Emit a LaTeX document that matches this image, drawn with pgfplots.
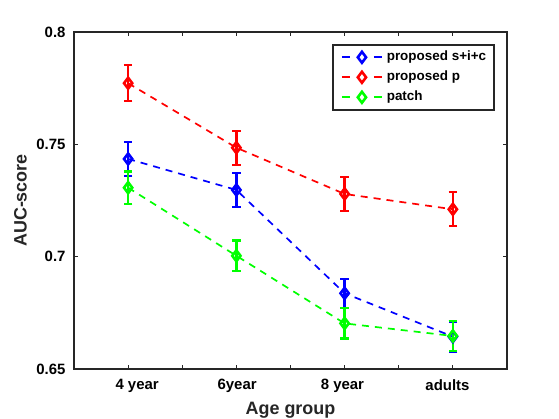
\documentclass[border=0pt]{standalone}
\usepackage{fontspec}
\setmainfont{Liberation Sans}
\usepackage{pgfplots}
\pgfplotsset{compat=1.18}
\definecolor{axgray}{RGB}{38,38,38}
\pgfplotstableread{
x y e
1 0.7435 0.0076
2 0.7297 0.0077
3 0.6837 0.0064
4 0.6644 0.0067
}\blueT
\pgfplotstableread{
x y e
1 0.7772 0.0080
2 0.7485 0.0076
3 0.7279 0.0076
4 0.7211 0.0076
}\redT
\pgfplotstableread{
x y e
1 0.7307 0.0072
2 0.7004 0.0068
3 0.6703 0.0067
4 0.6647 0.0068
}\greenT
\pgfplotsset{
  mystyle/.style={
    line width=1.7bp, dash pattern=on 7bp off 6bp,
    mark=diamond, mark size=5.5bp, mark options={solid, line width=2.6bp, fill=none},
    error bars/.cd, y dir=both, y explicit,
    error bar style={solid, line width=2.4bp},
    error mark options={solid, rotate=90, mark size=4.2bp, line width=2.2bp}
  }
}
\begin{document}
\begin{tikzpicture}
\begin{axis}[
  at={(0,0)}, anchor=south west,
  scale only axis, width=433bp, height=337bp,
  xmin=0.5, xmax=4.5, ymin=0.65, ymax=0.8,
  xtick={1,1.5,...,4}, xticklabels={},
  extra x ticks={1.083,2.007,2.98,3.95},
  extra x tick labels={4 year,6year,8 year,adults},
  extra x tick style={major tick length=0pt},
  ytick={0.65,0.7,0.75,0.8}, yticklabels={0.65,0.7,0.75,0.8},
  tick align=inside, major tick length=4bp,
  every tick/.style={axgray, line width=1.2bp},
  axis line style={axgray, line width=1.7bp},
  tick label style={font=\bfseries\fontsize{15}{17}\selectfont, text=black},
  xticklabel style={yshift=-7bp},
  yticklabel style={xshift=-5bp},
  xlabel={Age group}, ylabel={AUC-score},
  label style={font=\bfseries\fontsize{18}{20}\selectfont, text=axgray},
  xlabel style={at={(axis description cs:0.5,0)}, anchor=north, yshift=-33bp, inner sep=0pt},
  ylabel style={at={(axis description cs:-0.1085,0.5)}, anchor=south, inner sep=0pt},
  legend style={at={(1,1)}, anchor=north east, xshift=-12bp, yshift=-12bp,
    draw=axgray, line width=1.6bp, inner xsep=8bp, inner ysep=6bp,
    font=\bfseries\fontsize{13.5}{15}\selectfont, row sep=7bp,
    nodes={inner sep=0pt, text height=10bp, text depth=3bp}},
  legend cell align=left,
  legend image code/.code={
    \draw[#1, dash pattern=on 8bp off 24bp, mark repeat=2, mark phase=2]
      plot coordinates {(0bp,0bp) (20bp,0bp) (40bp,0bp)};
    \path (44bp,0bp);
  },
]
\addplot[blue, mystyle] table[x=x, y=y, y error=e] {\blueT};
\addlegendentry{proposed s+i+c}
\addplot[red, mystyle] table[x=x, y=y, y error=e] {\redT};
\addlegendentry{proposed p}
\addplot[green, mystyle] table[x=x, y=y, y error=e] {\greenT};
\addlegendentry{patch}
\end{axis}
\pgfresetboundingbox
\path[use as bounding box] (-74bp,-50bp) rectangle (485bp,369bp);
\end{tikzpicture}
\end{document}
